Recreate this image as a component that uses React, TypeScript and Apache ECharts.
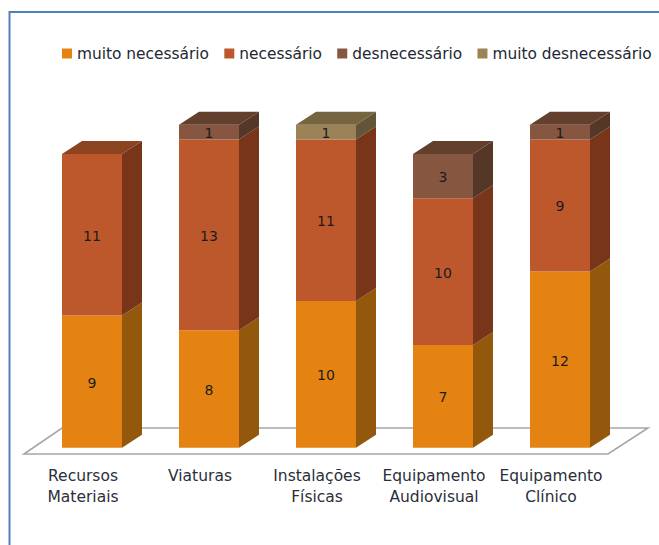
import React, { useEffect, useRef } from "react";
import * as echarts from "echarts";

const categories = [
  "Recursos\nMateriais",
  "Viaturas",
  "Instalações\nFísicas",
  "Equipamento\nAudiovisual",
  "Equipamento\nClínico",
];
const seriesNames = ["muito necessário", "necessário", "desnecessário", "muito desnecessário"];
const muitoNecessario = [9, 8, 10, 7, 12];
const necessario = [11, 13, 11, 10, 9];
const desnecessario = [0, 1, 0, 3, 1];
const muitoDesnecessario = [0, 0, 1, 0, 0];
const allValues = [muitoNecessario, necessario, desnecessario, muitoDesnecessario];

const frontColors = ["#E48312", "#BD582C", "#865640", "#9B8357"];
const sideColors = ["#93580B", "#78351A", "#553728", "#64553A"];
const topColors = ["#A8620E", "#8B4320", "#633F2E", "#776440"];

const FONT = "'DejaVu Sans', sans-serif";
const DX = 20;
const DY = 13;
const BAR_SHIFT = 9;

function buildOption() {
  const series = allValues.map((vals, si) => ({
    type: "custom",
    name: seriesNames[si],
    itemStyle: { color: frontColors[si] },
    coordinateSystem: "cartesian2d",
    clip: false,
    encode: { x: 0, y: [1, 2] },
    data: vals.map((v, i) => {
      const start = allValues.slice(0, si).reduce((s, a) => s + a[i], 0);
      const above = allValues.slice(si + 1).reduce((s, a) => s + a[i], 0);
      return [i, start, start + v, v, above === 0 ? 1 : 0];
    }),
    renderItem: (_p: any, api: any) => {
      const v = api.value(3);
      if (!v) return { type: "group", children: [] };
      const base = api.coord([api.value(0), api.value(1)]);
      const top = api.coord([api.value(0), api.value(2)]);
      const w = api.size([1, 0])[0] * (60 / 117);
      const x0 = base[0] + BAR_SHIFT - w / 2;
      const x1 = x0 + w;
      const yb = base[1];
      const yt = top[1];
      const children: any[] = [
        {
          type: "polygon",
          shape: { points: [[x1, yb], [x1 + DX, yb - DY], [x1 + DX, yt - DY], [x1, yt]] },
          style: { fill: sideColors[si] },
        },
        {
          type: "rect",
          shape: { x: x0, y: yt, width: w, height: yb - yt },
          style: { fill: frontColors[si] },
        },
      ];
      if (api.value(4)) {
        children.push({
          type: "polygon",
          shape: { points: [[x0, yt], [x1, yt], [x1 + DX, yt - DY], [x0 + DX, yt - DY]] },
          style: { fill: topColors[si] },
        });
      }
      children.push({
        type: "text",
        x: (x0 + x1) / 2,
        y: (yb + yt) / 2 + 1,
        style: {
          text: String(v),
          fill: "#1c1c1c",
          font: `14px ${FONT}`,
          align: "center",
          verticalAlign: "middle",
        },
      });
      return { type: "group", children };
    },
  }));

  return {
    animation: false,
    backgroundColor: "#ffffff",
    textStyle: { fontFamily: FONT },
    legend: {
      left: 57,
      top: 41,
      icon: "rect",
      itemWidth: 10,
      itemHeight: 10,
      itemGap: 15.3,
      data: seriesNames,
      textStyle: { color: "#222833", fontSize: 15.4, fontFamily: FONT },
    },
    grid: { left: 24.5, width: 585, top: 80.7, height: 367 },
    xAxis: {
      type: "category",
      data: categories,
      axisLine: { show: false },
      axisTick: { show: false },
      axisLabel: {
        interval: 0,
        margin: 18,
        color: "#2a2f3a",
        fontSize: 15.5,
        lineHeight: 21,
        fontFamily: FONT,
        align: "center",
      },
    },
    yAxis: { type: "value", min: 0, max: 25, show: false },
    graphic: [
      {
        type: "polyline",
        z: -1,
        shape: { points: [[9.5, 545], [9.5, 12], [659, 12]] },
        style: { stroke: "#4F81BD", lineWidth: 2, fill: "none" },
      },
      {
        type: "polygon",
        z: -1,
        shape: { points: [[24, 454], [62, 428], [648, 428], [608, 454]] },
        style: { stroke: "#A6A6A6", lineWidth: 1.6, fill: "#ffffff" },
      },
    ],
    series,
  };
}

export default function App() {
  const ref = useRef<HTMLDivElement>(null);
  useEffect(() => {
    document.body.style.margin = "0";
    const chart = echarts.init(ref.current!, null, { renderer: "svg" });
    chart.setOption(buildOption() as any);
    return () => chart.dispose();
  }, []);
  return <div ref={ref} style={{ width: 659, height: 545 }} />;
}
